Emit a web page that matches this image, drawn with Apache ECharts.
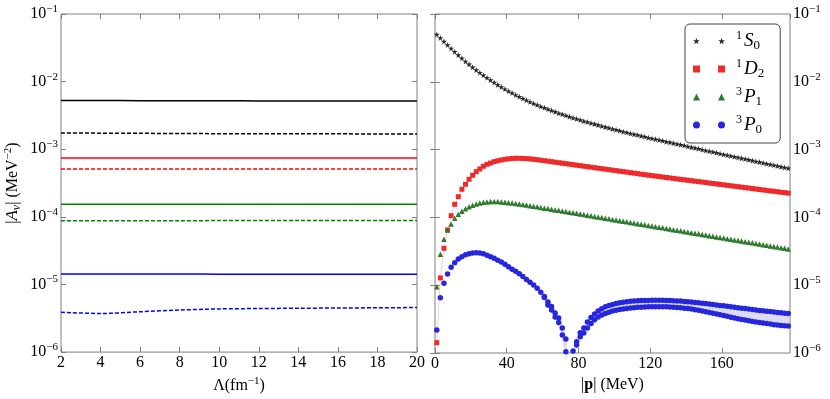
<!DOCTYPE html>
<html lang="en" style="height: 100%">
<head>
  <meta charset="utf-8">
  <title>Amplitudes vs cutoff and momentum</title>
</head>
<body style="height: 100%; margin: 0; background: #fff;">
  <div id="container" style="width: 830px; height: 399px;"></div>

  <script src="https://cdn.jsdelivr.net/npm/echarts@6/dist/echarts.min.js"></script>

  <script type="text/javascript">
    // ---- left panel: |A| against the cutoff Lambda (fm^-1)
    const lam = [2, 4, 6, 8, 10, 12, 14, 16, 18, 20];
    const s0Solid = [5.26e-3, 5.25e-3, 5.23e-3, 5.22e-3, 5.20e-3, 5.19e-3, 5.18e-3, 5.17e-3, 5.16e-3, 5.15e-3];
    const s0Dash  = [1.74e-3, 1.73e-3, 1.72e-3, 1.71e-3, 1.70e-3, 1.70e-3, 1.69e-3, 1.69e-3, 1.68e-3, 1.68e-3];
    const d2Solid = [7.45e-4, 7.45e-4, 7.45e-4, 7.45e-4, 7.45e-4, 7.45e-4, 7.45e-4, 7.45e-4, 7.45e-4, 7.45e-4];
    const d2Dash  = [5.12e-4, 5.12e-4, 5.12e-4, 5.12e-4, 5.12e-4, 5.12e-4, 5.12e-4, 5.12e-4, 5.12e-4, 5.12e-4];
    const p1Solid = [1.54e-4, 1.54e-4, 1.54e-4, 1.54e-4, 1.54e-4, 1.54e-4, 1.54e-4, 1.54e-4, 1.54e-4, 1.54e-4];
    const p1Dash  = [8.75e-5, 8.75e-5, 8.77e-5, 8.78e-5, 8.80e-5, 8.80e-5, 8.80e-5, 8.80e-5, 8.80e-5, 8.80e-5];
    const p0Solid = [1.43e-5, 1.43e-5, 1.43e-5, 1.43e-5, 1.42e-5, 1.42e-5, 1.42e-5, 1.42e-5, 1.42e-5, 1.42e-5];
    const p0Dash  = [3.89e-6, 3.72e-6, 3.95e-6, 4.19e-6, 4.35e-6, 4.41e-6, 4.45e-6, 4.49e-6, 4.52e-6, 4.56e-6];

    // ---- right panel: |A| against |p| (MeV)
    const pMeV = [1, 3, 5, 7, 9, 11, 13, 15, 17, 19,
      21, 23, 25, 27, 29, 31, 33, 35, 37, 39,
      41, 43, 45, 47, 49, 51, 53, 55, 57, 59,
      61, 63, 65, 67, 69, 71, 73, 75, 77, 79,
      81, 83, 85, 87, 89, 91, 93, 95, 97, 99,
      101, 103, 105, 107, 109, 111, 113, 115, 117, 119,
      121, 123, 125, 127, 129, 131, 133, 135, 137, 139,
      141, 143, 145, 147, 149, 151, 153, 155, 157, 159,
      161, 163, 165, 167, 169, 171, 173, 175, 177, 179,
      181, 183, 185, 187, 189, 191, 193, 195, 197];

    const s0 = [0.0499, 0.0443, 0.0393, 0.0349, 0.0311, 0.0278, 0.0248, 0.0223, 0.0200, 0.0181,
      0.0164, 0.0149, 0.0136, 0.0125, 0.0115, 0.0106, 0.00977, 0.00903, 0.00838, 0.00780,
      0.00729, 0.00684, 0.00641, 0.00603, 0.00568, 0.00536, 0.00506, 0.00480, 0.00456, 0.00434,
      0.00414, 0.00394, 0.00378, 0.00361, 0.00345, 0.00332, 0.00318, 0.00305, 0.00294, 0.00284,
      0.00273, 0.00263, 0.00255, 0.00246, 0.00238, 0.00230, 0.00222, 0.00215, 0.00208, 0.00202,
      0.00196, 0.00190, 0.00184, 0.00179, 0.00173, 0.00168, 0.00164, 0.00159, 0.00155, 0.00150,
      0.00146, 0.00142, 0.00139, 0.00135, 0.00131, 0.00128, 0.00124, 0.00121, 0.00118, 0.00115,
      0.00111, 0.00108, 0.00106, 0.00103, 0.00100, 0.000973, 0.000947, 0.000923, 0.000898, 0.000873,
      0.000849, 0.000826, 0.000807, 0.000785, 0.000764, 0.000744, 0.000726, 0.000707, 0.000689, 0.000670,
      0.000655, 0.000637, 0.000620, 0.000603, 0.000589, 0.000573, 0.000557, 0.000545, 0.000531];

    const d2 = [1.42e-6, 1.28e-5, 3.50e-5, 6.52e-5, 1.06e-4, 1.56e-4, 2.02e-4, 2.60e-4, 3.08e-4, 3.65e-4,
      4.18e-4, 4.72e-4, 5.18e-4, 5.68e-4, 6.07e-4, 6.34e-4, 6.64e-4, 6.86e-4, 7.03e-4, 7.20e-4,
      7.31e-4, 7.40e-4, 7.45e-4, 7.45e-4, 7.41e-4, 7.36e-4, 7.29e-4, 7.19e-4, 7.10e-4, 6.98e-4,
      6.86e-4, 6.75e-4, 6.64e-4, 6.52e-4, 6.41e-4, 6.30e-4, 6.20e-4, 6.10e-4, 5.99e-4, 5.89e-4,
      5.79e-4, 5.69e-4, 5.60e-4, 5.51e-4, 5.41e-4, 5.32e-4, 5.23e-4, 5.15e-4, 5.06e-4, 4.97e-4,
      4.89e-4, 4.81e-4, 4.73e-4, 4.65e-4, 4.57e-4, 4.49e-4, 4.42e-4, 4.34e-4, 4.27e-4, 4.20e-4,
      4.13e-4, 4.07e-4, 4.00e-4, 3.94e-4, 3.88e-4, 3.82e-4, 3.76e-4, 3.70e-4, 3.64e-4, 3.59e-4,
      3.53e-4, 3.48e-4, 3.42e-4, 3.37e-4, 3.32e-4, 3.27e-4, 3.21e-4, 3.16e-4, 3.12e-4, 3.07e-4,
      3.02e-4, 2.97e-4, 2.93e-4, 2.88e-4, 2.84e-4, 2.79e-4, 2.75e-4, 2.71e-4, 2.66e-4, 2.62e-4,
      2.58e-4, 2.54e-4, 2.50e-4, 2.46e-4, 2.43e-4, 2.39e-4, 2.35e-4, 2.32e-4, 2.28e-4];

    const p1 = [9.51e-6, 2.86e-5, 4.75e-5, 6.52e-5, 8.00e-5, 9.70e-5, 1.11e-4, 1.23e-4, 1.34e-4, 1.44e-4,
      1.51e-4, 1.58e-4, 1.63e-4, 1.67e-4, 1.69e-4, 1.71e-4, 1.71e-4, 1.71e-4, 1.69e-4, 1.67e-4,
      1.65e-4, 1.63e-4, 1.60e-4, 1.57e-4, 1.55e-4, 1.52e-4, 1.49e-4, 1.46e-4, 1.43e-4, 1.40e-4,
      1.37e-4, 1.35e-4, 1.32e-4, 1.29e-4, 1.27e-4, 1.24e-4, 1.22e-4, 1.19e-4, 1.17e-4, 1.15e-4,
      1.12e-4, 1.10e-4, 1.08e-4, 1.06e-4, 1.03e-4, 1.01e-4, 9.93e-5, 9.73e-5, 9.53e-5, 9.34e-5,
      9.15e-5, 8.96e-5, 8.78e-5, 8.60e-5, 8.43e-5, 8.26e-5, 8.09e-5, 7.93e-5, 7.77e-5, 7.61e-5,
      7.46e-5, 7.31e-5, 7.16e-5, 7.01e-5, 6.87e-5, 6.73e-5, 6.60e-5, 6.46e-5, 6.33e-5, 6.20e-5,
      6.08e-5, 5.96e-5, 5.84e-5, 5.72e-5, 5.60e-5, 5.49e-5, 5.38e-5, 5.27e-5, 5.16e-5, 5.06e-5,
      4.96e-5, 4.86e-5, 4.76e-5, 4.66e-5, 4.57e-5, 4.48e-5, 4.39e-5, 4.30e-5, 4.21e-5, 4.13e-5,
      4.04e-5, 3.96e-5, 3.88e-5, 3.80e-5, 3.73e-5, 3.65e-5, 3.58e-5, 3.51e-5, 3.43e-5];

    // 3P0 splits in two branches past ~60 MeV; null where the point falls under 1e-6
    const p0Upper = [2.18e-6, 6.54e-6, 1.07e-5, 1.46e-5, 1.84e-5, 2.15e-5, 2.43e-5, 2.63e-5, 2.82e-5, 2.92e-5,
      2.99e-5, 3.02e-5, 2.99e-5, 2.92e-5, 2.76e-5, 2.63e-5, 2.49e-5, 2.33e-5, 2.20e-5, 2.03e-5,
      1.87e-5, 1.72e-5, 1.60e-5, 1.48e-5, 1.34e-5, 1.21e-5, 1.11e-5, 1.01e-5, 9.00e-6, 7.85e-6,
      6.81e-6, 5.65e-6, 4.85e-6, 3.89e-6, 3.28e-6, 2.34e-6, 1.61e-6, null, 1.07e-6, 1.47e-6,
      1.99e-6, 2.34e-6, 2.86e-6, 3.34e-6, 3.76e-6, 4.16e-6, 4.50e-6, 4.79e-6, 5.02e-6, 5.21e-6,
      5.37e-6, 5.50e-6, 5.61e-6, 5.71e-6, 5.79e-6, 5.85e-6, 5.89e-6, 5.93e-6, 5.95e-6, 5.97e-6,
      5.99e-6, 5.99e-6, 5.99e-6, 5.99e-6, 5.97e-6, 5.95e-6, 5.91e-6, 5.87e-6, 5.83e-6, 5.77e-6,
      5.71e-6, 5.65e-6, 5.57e-6, 5.50e-6, 5.43e-6, 5.35e-6, 5.28e-6, 5.19e-6, 5.12e-6, 5.04e-6,
      4.97e-6, 4.89e-6, 4.82e-6, 4.74e-6, 4.66e-6, 4.59e-6, 4.52e-6, 4.46e-6, 4.39e-6, 4.32e-6,
      4.25e-6, 4.19e-6, 4.14e-6, 4.08e-6, 4.03e-6, 3.97e-6, 3.92e-6, 3.87e-6, 3.84e-6];

    const p0Lower = [null, null, null, null, null, null, null, null, null, null,
      null, null, null, null, null, null, null, null, null, null,
      null, null, null, null, null, null, null, null, null, null,
      6.59e-6, 5.11e-6, 4.31e-6, 3.40e-6, 2.82e-6, 1.84e-6, 1.04e-6, null, null, 1.31e-6,
      1.74e-6, 1.97e-6, 2.34e-6, 2.72e-6, 3.10e-6, 3.40e-6, 3.63e-6, 3.84e-6, 4.00e-6, 4.15e-6,
      4.28e-6, 4.38e-6, 4.47e-6, 4.55e-6, 4.61e-6, 4.66e-6, 4.71e-6, 4.74e-6, 4.77e-6, 4.79e-6,
      4.80e-6, 4.80e-6, 4.80e-6, 4.80e-6, 4.79e-6, 4.77e-6, 4.74e-6, 4.69e-6, 4.64e-6, 4.58e-6,
      4.52e-6, 4.44e-6, 4.35e-6, 4.26e-6, 4.16e-6, 4.06e-6, 3.97e-6, 3.86e-6, 3.76e-6, 3.66e-6,
      3.56e-6, 3.47e-6, 3.38e-6, 3.28e-6, 3.21e-6, 3.13e-6, 3.06e-6, 2.99e-6, 2.92e-6, 2.86e-6,
      2.81e-6, 2.76e-6, 2.72e-6, 2.67e-6, 2.62e-6, 2.59e-6, 2.55e-6, 2.53e-6, 2.50e-6];

    // legend labels: superscript, letter, subscript
    const waveNames = ['1S0', '1D2', '3P1', '3P0'];
    const waveSup = ['1', '1', '3', '3'];
    const waveL = ['S', 'D', 'P', 'P'];
    const waveSub = ['0', '2', '1', '0'];

    const serif = 'Liberation Serif';
    const frame = '#808080';
    const cBlack = '#262626', cRed = '#ee2a2a', cGreen = '#2e7b2e', cBlue = '#2626dd';

    const starPath = 'path://M5,0L6.12,3.45L9.76,3.45L6.82,5.59L7.94,9.05L5,6.91L2.06,9.05L3.18,5.59L0.24,3.45L3.88,3.45Z';
    // two markers per legend entry, like numpoints=2
    const legStar = 'path://M3.5,0L4.28,2.42L6.83,2.42L4.77,3.91L5.56,6.33L3.5,4.84L1.44,6.33L2.23,3.91L0.17,2.42L2.72,2.42Z' +
      'M28.5,0L29.28,2.42L31.83,2.42L29.77,3.91L30.56,6.33L28.5,4.84L26.44,6.33L27.23,3.91L25.17,2.42L27.72,2.42Z';
    const legRect = 'path://M0,0H7V7H0Z M25,0H32V7H25Z';
    const legTri = 'path://M3.5,0L7,7H0Z M28.5,0L32,7H25Z';
    const legCirc = 'path://M0,3.5A3.5,3.5,0,1,1,7,3.5A3.5,3.5,0,1,1,0,3.5Z M25,3.5A3.5,3.5,0,1,1,32,3.5A3.5,3.5,0,1,1,25,3.5Z';

    const dom = document.getElementById('container');
    const myChart = echarts.init(dom, null, { renderer: 'canvas' });

    function pairs(xs, ys) {
      const out = [];
      for (let i = 0; i < xs.length; i++) {
        if (ys[i] != null) out.push([xs[i], ys[i]]);
      }
      return out;
    }

    const tickStyle = { inside: true, length: 5, lineStyle: { color: frame, width: 1 } };
    const logRich = {
      b: { fontFamily: serif, fontSize: 16, color: '#000' },
      s: { fontFamily: serif, fontSize: 11, color: '#000', padding: [0, 0, 10, 0] }
    };

    function logAxis(gridIndex, position, showLabels, extra) {
      return Object.assign({
        type: 'log',
        logBase: 10,
        gridIndex: gridIndex,
        position: position,
        min: 1e-6,
        max: 1e-1,
        axisLine: { show: false },
        splitLine: { show: false },
        axisTick: tickStyle,
        axisLabel: {
          show: showLabels,
          margin: 3,
          formatter: v => '{b|10}{s|−' + Math.round(-Math.log10(v)) + '}',
          rich: logRich
        }
      }, extra || {});
    }

    function valAxis(gridIndex, position, min, max, interval, showLabels, extra) {
      return Object.assign({
        type: 'value',
        gridIndex: gridIndex,
        position: position,
        min: min,
        max: max,
        interval: interval,
        axisLine: { show: false },
        splitLine: { show: false },
        axisTick: tickStyle,
        axisLabel: {
          show: showLabels,
          margin: 3,
          showMaxLabel: max % interval === 0,
          fontFamily: serif,
          fontSize: 16,
          color: '#000'
        }
      }, extra || {});
    }

    function cutLine(arr, color, dashed) {
      return {
        type: 'line',
        xAxisIndex: 0,
        yAxisIndex: 0,
        data: pairs(lam, arr),
        symbol: 'none',
        smooth: 0.3,
        silent: true,
        lineStyle: { color: color, width: 1.5, type: dashed ? [4, 2] : 'solid' }
      };
    }

    function dots(name, arr, symbol, size, color) {
      return {
        name: name,
        type: 'scatter',
        xAxisIndex: 2,
        yAxisIndex: 3,
        data: pairs(pMeV, arr),
        symbol: symbol,
        symbolSize: size,
        silent: true,
        itemStyle: { color: color, opacity: 1 }
      };
    }

    // light band between the two 3P0 branches
    function bandItem(params, api) {
      const children = [];
      let seg = [];
      const flush = () => {
        if (seg.length > 1) {
          const top = seg.map(i => api.coord([pMeV[i], p0Upper[i]]));
          const bot = seg.map(i => api.coord([pMeV[i], p0Lower[i]])).reverse();
          children.push({
            type: 'polygon',
            shape: { points: top.concat(bot) },
            style: { fill: '#dcdcf7', stroke: '#dcdcf7', lineWidth: 2 }
          });
        }
        seg = [];
      };
      for (let i = 0; i < pMeV.length; i++) {
        if (p0Upper[i] != null && p0Lower[i] != null) seg.push(i);
        else flush();
      }
      flush();
      return { type: 'group', children: children };
    }

    const option = {
      animation: false,
      backgroundColor: '#fff',
      grid: [
        { left: 61, top: 14, width: 356, height: 339, show: true, borderColor: frame, borderWidth: 1 },
        { left: 435, top: 14, width: 355, height: 339, show: true, borderColor: frame, borderWidth: 1 }
      ],
      legend: {
        orient: 'vertical',
        left: 685,
        top: 24,
        padding: [6, 16, 7, 8],
        itemGap: 6,
        itemWidth: 32,
        itemHeight: 7,
        backgroundColor: '#fff',
        borderColor: '#444',
        borderWidth: 1,
        borderRadius: 5,
        data: [
          { name: '1S0', icon: legStar },
          { name: '1D2', icon: legRect },
          { name: '3P1', icon: legTri },
          { name: '3P0', icon: legCirc }
        ],
        formatter: name => {
          const i = waveNames.indexOf(name);
          return '{sup|' + waveSup[i] + '}{it|' + waveL[i] + '}{sub|' + waveSub[i] + '}';
        },
        textStyle: {
          padding: [0, 0, 0, 6],
          rich: {
            sup: { fontFamily: serif, fontSize: 12, color: '#000', padding: [0, 2, 10, 0] },
            it: { fontFamily: serif, fontSize: 19, fontStyle: 'italic', color: '#000', lineHeight: 22 },
            sub: { fontFamily: serif, fontSize: 13, color: '#000', padding: [9, 0, 0, 0] }
          }
        }
      },
      xAxis: [
        valAxis(0, 'bottom', 2, 20, 2, true, {
          name: '{L|Λ}(fm{s|−1})',
          nameLocation: 'middle',
          nameGap: 20,
          nameTextStyle: {
            fontFamily: serif, fontSize: 16, color: '#000',
            rich: {
              L: { fontFamily: serif, fontSize: 16, color: '#000' },
              s: { fontFamily: serif, fontSize: 11, color: '#000', padding: [0, 0, 9, 0] }
            }
          }
        }),
        valAxis(0, 'top', 2, 20, 2, false),
        valAxis(1, 'bottom', 0, 198, 40, true, {
          name: '|{p|p}| (MeV)',
          nameLocation: 'middle',
          nameGap: 20,
          nameTextStyle: {
            fontFamily: serif, fontSize: 16, color: '#000',
            rich: { p: { fontFamily: serif, fontSize: 16, fontWeight: 'bold', color: '#000' } }
          }
        }),
        valAxis(1, 'top', 0, 198, 40, false)
      ],
      yAxis: [
        logAxis(0, 'left', true, {
          name: '|{A|A}{nu|ν}| (MeV{s|−2})',
          nameLocation: 'middle',
          nameRotate: 90,
          nameGap: 38,
          nameTextStyle: {
            fontFamily: serif, fontSize: 16, color: '#000',
            rich: {
              A: { fontFamily: serif, fontSize: 17, fontStyle: 'italic', color: '#000' },
              nu: { fontFamily: serif, fontSize: 12, fontStyle: 'italic', color: '#000', padding: [7, 0, 0, 0] },
              s: { fontFamily: serif, fontSize: 11, color: '#000', padding: [0, 0, 9, 0] }
            }
          }
        }),
        logAxis(0, 'right', false),
        logAxis(1, 'left', false),
        logAxis(1, 'right', true)
      ],
      series: [
        cutLine(s0Solid, '#000000', false),
        cutLine(s0Dash, '#000000', true),
        cutLine(d2Solid, '#ff0000', false),
        cutLine(d2Dash, '#ff0000', true),
        cutLine(p1Solid, '#008000', false),
        cutLine(p1Dash, '#008000', true),
        cutLine(p0Solid, '#0000ff', false),
        cutLine(p0Dash, '#0000ff', true),
        {
          type: 'custom',
          xAxisIndex: 2,
          yAxisIndex: 3,
          silent: true,
          z: 1,
          data: [[100, 1e-5]],
          renderItem: bandItem
        },
        {
          type: 'line',
          xAxisIndex: 2,
          yAxisIndex: 3,
          data: pairs(pMeV, d2),
          symbol: 'none',
          silent: true,
          z: 1,
          lineStyle: { color: 'rgba(255, 110, 110, 0.35)', width: 1 }
        },
        dots('1S0', s0, starPath, 6, cBlack),
        dots('1D2', d2, 'rect', 5, cRed),
        dots('3P1', p1, 'triangle', 5.5, cGreen),
        dots('3P0', p0Upper, 'circle', 5.5, cBlue),
        dots('3P0', p0Lower, 'circle', 5.5, cBlue)
      ]
    };

    myChart.setOption(option);
    window.addEventListener('resize', myChart.resize);
  </script>
</body>
</html>
